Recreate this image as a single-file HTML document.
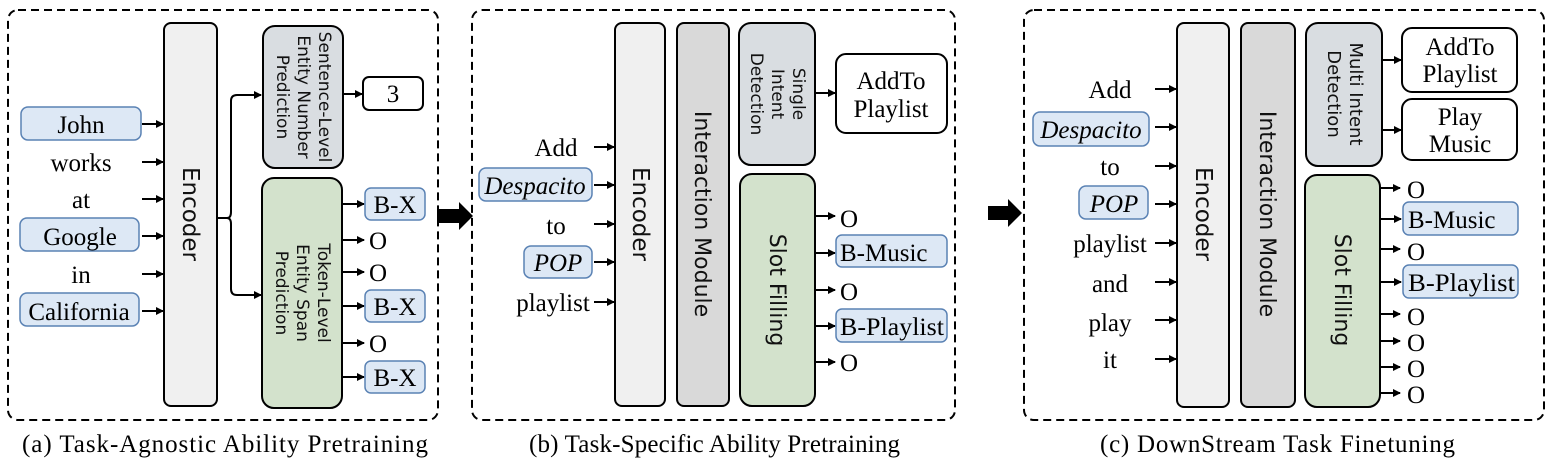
<!DOCTYPE html>
<html><head><meta charset="utf-8"><style>
html,body{margin:0;padding:0;background:#fff;}
svg{display:block;}
.t{font-family:"Liberation Serif",serif;font-size:25px;fill:#000;}
.s{font-family:"DejaVu Sans","Liberation Sans",sans-serif;fill:#111;}
.cap{font-family:"Liberation Serif",serif;font-size:25px;fill:#000;}
.box{stroke:#000;stroke-width:2;}
.blue{fill:#dde8f5;stroke:#5a82b4;stroke-width:1.5;}
.dash{fill:none;stroke:#000;stroke-width:2;stroke-dasharray:8,5;}
.ln{stroke:#000;stroke-width:2;fill:none;}
</style></head><body>
<svg width="1546" height="468" viewBox="0 0 1546 468" xmlns="http://www.w3.org/2000/svg">
<defs><marker id="a" markerWidth="8" markerHeight="8" refX="7" refY="4" orient="auto" markerUnits="userSpaceOnUse"><path d="M0,0 L8,4 L0,8 z" fill="#000"/></marker></defs>

<!-- Panel a -->
<rect x="8" y="10" width="430" height="410" rx="10" class="dash"/>
<rect x="164" y="23" width="53" height="383" rx="7" fill="#f0f0f0" class="box"/>
<text class="s" font-size="23" transform="translate(183,214) rotate(90)" text-anchor="middle">Encoder</text>
<rect x="263" y="26" width="80" height="142" rx="12" fill="#d9dde1" class="box"/>
<text class="s" font-size="17" text-anchor="middle" transform="translate(303,97) rotate(90)"><tspan x="0" y="-16">Sentence-Level</tspan><tspan x="0" y="5">Entity Number</tspan><tspan x="0" y="26">Prediction</tspan></text>
<rect x="363" y="77" width="60" height="33" rx="6" fill="#fff" class="box"/>
<text class="t" x="393" y="102" text-anchor="middle">3</text>
<rect x="262" y="178" width="80" height="230" rx="12" fill="#d3e2cc" class="box"/>
<text class="s" font-size="17" text-anchor="middle" transform="translate(302,293) rotate(90)"><tspan x="0" y="-16">Token-Level</tspan><tspan x="0" y="5">Entity Span</tspan><tspan x="0" y="26">Prediction</tspan></text>
<rect x="21" y="107" width="120" height="33" rx="7" class="blue"/><text class="t" x="81" y="133" text-anchor="middle">John</text>
<text class="t" x="81" y="171" text-anchor="middle">works</text>
<text class="t" x="81" y="208" text-anchor="middle">at</text>
<rect x="20" y="218" width="119" height="33" rx="7" class="blue"/><text class="t" x="80" y="245" text-anchor="middle">Google</text>
<text class="t" x="81" y="283" text-anchor="middle">in</text>
<rect x="20" y="293" width="119" height="33" rx="7" class="blue"/><text class="t" x="79" y="320" text-anchor="middle">California</text>
<g class="ln" marker-end="url(#a)">
<line x1="142" y1="124" x2="163" y2="124"/><line x1="142" y1="162" x2="163" y2="162"/><line x1="142" y1="199" x2="163" y2="199"/><line x1="142" y1="236" x2="163" y2="236"/><line x1="142" y1="274" x2="163" y2="274"/><line x1="142" y1="311" x2="163" y2="311"/>
<path d="M217,218 L227,218 Q231,218 231,212 L231,101 Q231,95 237,95 L261,95"/>
<path d="M227,218 Q231,218 231,224 L231,289 Q231,295 237,295 L261,295"/>
<line x1="343" y1="94" x2="362" y2="94"/>
<line x1="342" y1="204" x2="364" y2="204"/><line x1="342" y1="240" x2="364" y2="240"/><line x1="342" y1="272" x2="364" y2="272"/><line x1="342" y1="306" x2="364" y2="306"/><line x1="342" y1="343" x2="364" y2="343"/><line x1="342" y1="377" x2="364" y2="377"/>
</g>
<rect x="365" y="188" width="60" height="32" rx="6" class="blue"/><text class="t" x="395" y="213" text-anchor="middle">B-X</text>
<text class="t" x="369" y="249">O</text><text class="t" x="369" y="281">O</text>
<rect x="365" y="290" width="60" height="32" rx="6" class="blue"/><text class="t" x="395" y="315" text-anchor="middle">B-X</text>
<text class="t" x="369" y="352">O</text>
<rect x="365" y="361" width="60" height="32" rx="6" class="blue"/><text class="t" x="395" y="386" text-anchor="middle">B-X</text>
<text class="cap" x="22" y="452" textLength="406" lengthAdjust="spacing">(a) Task-Agnostic Ability Pretraining</text>

<!-- big arrows -->
<path d="M437,209 L459,209 L459,202 L473,216 L459,230 L459,223 L437,223 z" fill="#000"/>
<path d="M988,206 L1008,206 L1008,199 L1022,213 L1008,227 L1008,220 L988,220 z" fill="#000"/>

<!-- Panel b -->
<rect x="472" y="10" width="483" height="410" rx="10" class="dash"/>
<rect x="615" y="23" width="50" height="383" rx="7" fill="#f0f0f0" class="box"/>
<text class="s" font-size="23" transform="translate(633,214) rotate(90)" text-anchor="middle">Encoder</text>
<rect x="677" y="23" width="52" height="383" rx="7" fill="#d9d9d9" class="box"/>
<text class="s" font-size="22" transform="translate(695,214) rotate(90)" text-anchor="middle">Interaction Module</text>
<rect x="739" y="23" width="76" height="142" rx="12" fill="#d9dde1" class="box"/>
<text class="s" font-size="17" text-anchor="middle" transform="translate(777,94) rotate(90)"><tspan x="0" y="-16">Single</tspan><tspan x="0" y="5">Intent</tspan><tspan x="0" y="26">Detection</tspan></text>
<rect x="836" y="54" width="111" height="79" rx="10" fill="#fff" class="box"/>
<text class="t" x="891" y="89" text-anchor="middle">AddTo</text><text class="t" x="891" y="117" text-anchor="middle">Playlist</text>
<rect x="740" y="174" width="75" height="232" rx="12" fill="#d3e2cc" class="box"/>
<text class="s" font-size="22" transform="translate(770,290) rotate(90)" text-anchor="middle">Slot Filling</text>
<text class="t" x="556" y="156" text-anchor="middle">Add</text>
<rect x="479" y="168" width="113" height="33" rx="7" class="blue"/><text class="t" x="535" y="194" text-anchor="middle" font-style="italic">Despacito</text>
<text class="t" x="556" y="234" text-anchor="middle">to</text>
<rect x="524" y="246" width="68" height="32" rx="7" class="blue"/><text class="t" x="558" y="271" text-anchor="middle" font-style="italic">POP</text>
<text class="t" x="553" y="311" text-anchor="middle">playlist</text>
<g class="ln" marker-end="url(#a)">
<line x1="594" y1="147" x2="614" y2="147"/><line x1="594" y1="185" x2="614" y2="185"/><line x1="594" y1="224" x2="614" y2="224"/><line x1="594" y1="262" x2="614" y2="262"/><line x1="594" y1="302" x2="614" y2="302"/>
<line x1="816" y1="93" x2="835" y2="93"/>
<line x1="816" y1="216" x2="835" y2="216"/><line x1="816" y1="253" x2="835" y2="253"/><line x1="816" y1="290" x2="835" y2="290"/><line x1="816" y1="326" x2="835" y2="326"/><line x1="816" y1="362" x2="835" y2="362"/>
</g>
<text class="t" x="840" y="227">O</text>
<rect x="836" y="235" width="111" height="32" rx="6" class="blue"/><text class="t" x="840" y="261">B-Music</text>
<text class="t" x="840" y="300">O</text>
<rect x="836" y="309" width="111" height="33" rx="6" class="blue"/><text class="t" x="840" y="335" textLength="104" lengthAdjust="spacingAndGlyphs">B-Playlist</text>
<text class="t" x="840" y="371">O</text>
<text class="cap" x="529" y="452" textLength="371" lengthAdjust="spacing">(b) Task-Specific Ability Pretraining</text>

<!-- Panel c -->
<rect x="1024" y="10" width="520" height="410" rx="10" class="dash"/>
<rect x="1177" y="23" width="52" height="384" rx="7" fill="#f0f0f0" class="box"/>
<text class="s" font-size="23" transform="translate(1196,214) rotate(90)" text-anchor="middle">Encoder</text>
<rect x="1241" y="23" width="54" height="384" rx="7" fill="#d9d9d9" class="box"/>
<text class="s" font-size="22" transform="translate(1260,214) rotate(90)" text-anchor="middle">Interaction Module</text>
<rect x="1306" y="23" width="76" height="143" rx="12" fill="#d9dde1" class="box"/>
<text class="s" font-size="18" text-anchor="middle" transform="translate(1344,94) rotate(90)"><tspan x="0" y="-6">Multi Intent</tspan><tspan x="0" y="16">Detection</tspan></text>
<rect x="1402" y="28" width="115" height="64" rx="10" fill="#fff" class="box"/>
<text class="t" x="1460" y="55" text-anchor="middle">AddTo</text><text class="t" x="1460" y="82" text-anchor="middle">Playlist</text>
<rect x="1402" y="99" width="115" height="61" rx="10" fill="#fff" class="box"/>
<text class="t" x="1460" y="125" text-anchor="middle">Play</text><text class="t" x="1460" y="152" text-anchor="middle">Music</text>
<rect x="1305" y="175" width="75" height="232" rx="12" fill="#d3e2cc" class="box"/>
<text class="s" font-size="22" transform="translate(1335,290) rotate(90)" text-anchor="middle">Slot Filling</text>
<text class="t" x="1110" y="98" text-anchor="middle">Add</text>
<rect x="1033" y="112" width="116" height="34" rx="7" class="blue"/><text class="t" x="1091" y="138" text-anchor="middle" font-style="italic">Despacito</text>
<text class="t" x="1110" y="175" text-anchor="middle">to</text>
<rect x="1079" y="186" width="69" height="33" rx="7" class="blue"/><text class="t" x="1114" y="212" text-anchor="middle" font-style="italic">POP</text>
<text class="t" x="1110" y="252" text-anchor="middle">playlist</text>
<text class="t" x="1110" y="292" text-anchor="middle">and</text>
<text class="t" x="1110" y="331" text-anchor="middle">play</text>
<text class="t" x="1110" y="368" text-anchor="middle">it</text>
<g class="ln" marker-end="url(#a)">
<line x1="1155" y1="89" x2="1176" y2="89"/><line x1="1155" y1="127" x2="1176" y2="127"/><line x1="1155" y1="166" x2="1176" y2="166"/><line x1="1155" y1="204" x2="1176" y2="204"/><line x1="1155" y1="243" x2="1176" y2="243"/><line x1="1155" y1="282" x2="1176" y2="282"/><line x1="1155" y1="320" x2="1176" y2="320"/><line x1="1155" y1="359" x2="1176" y2="359"/>
<line x1="1383" y1="60" x2="1401" y2="60"/><line x1="1383" y1="130" x2="1401" y2="130"/>
<line x1="1381" y1="188" x2="1400" y2="188"/><line x1="1381" y1="219" x2="1401" y2="219"/><line x1="1381" y1="249" x2="1400" y2="249"/><line x1="1381" y1="282" x2="1401" y2="282"/><line x1="1381" y1="314" x2="1400" y2="314"/><line x1="1381" y1="341" x2="1400" y2="341"/><line x1="1381" y1="367" x2="1400" y2="367"/><line x1="1381" y1="393" x2="1400" y2="393"/>
</g>
<text class="t" x="1407" y="198">O</text>
<rect x="1403" y="202" width="115" height="33" rx="6" class="blue"/><text class="t" x="1408" y="228">B-Music</text>
<text class="t" x="1407" y="260">O</text>
<rect x="1403" y="265" width="115" height="33" rx="6" class="blue"/><text class="t" x="1408" y="291" textLength="107" lengthAdjust="spacingAndGlyphs">B-Playlist</text>
<text class="t" x="1407" y="325">O</text><text class="t" x="1407" y="351">O</text><text class="t" x="1407" y="377">O</text><text class="t" x="1407" y="403">O</text>
<text class="cap" x="1100" y="452" textLength="355" lengthAdjust="spacing">(c) DownStream Task Finetuning</text>
</svg>
</body></html>
